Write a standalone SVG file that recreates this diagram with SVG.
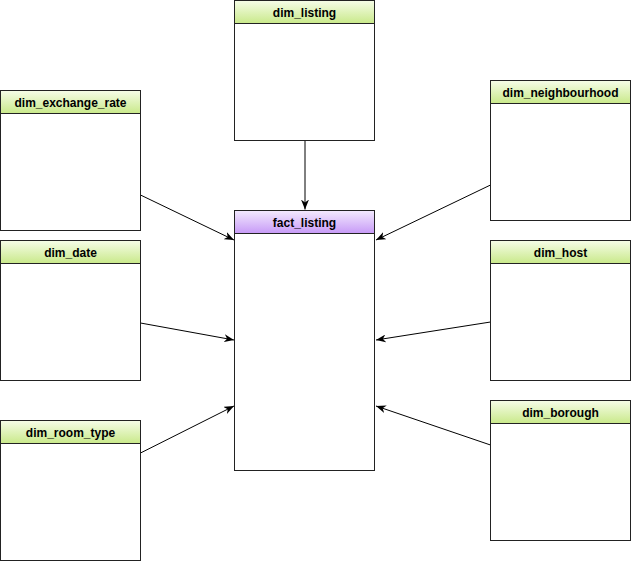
<svg xmlns="http://www.w3.org/2000/svg" width="631" height="561" viewBox="0 0 631 561">
<defs>
<linearGradient id="gGreen" x1="0" y1="0" x2="0" y2="1">
<stop offset="0" stop-color="#f6fde8"/>
<stop offset="1" stop-color="#c9e98a"/>
</linearGradient>
<linearGradient id="gPurple" x1="0" y1="0" x2="0" y2="1">
<stop offset="0" stop-color="#f3eafe"/>
<stop offset="1" stop-color="#c79af7"/>
</linearGradient>
<marker id="arr" viewBox="0 0 10 8" refX="10" refY="4" markerWidth="10" markerHeight="8" markerUnits="userSpaceOnUse" orient="auto">
<path d="M0,0 L10,4 L0,8 L3,4 Z" fill="#000"/>
</marker>
<style>
.body{fill:#fff;stroke:#222;stroke-width:1}
.hg{fill:url(#gGreen);stroke:#222;stroke-width:1}
.hp{fill:url(#gPurple);stroke:#222;stroke-width:1}
.t{font-family:"Liberation Sans",Arial,sans-serif;font-size:12px;font-weight:bold;fill:#000;text-anchor:middle}
.c{stroke:#000;stroke-width:1;fill:none;marker-end:url(#arr)}
</style>
</defs>
<g id="connectors">
<line class="c" x1="305" y1="140.5" x2="305" y2="209.5"/>
<line class="c" x1="140.5" y1="195" x2="234" y2="240"/>
<line class="c" x1="140.5" y1="323" x2="234" y2="340"/>
<line class="c" x1="140.5" y1="453" x2="234" y2="406"/>
<line class="c" x1="490.5" y1="185" x2="376" y2="240"/>
<line class="c" x1="490.5" y1="322" x2="376" y2="340"/>
<line class="c" x1="490.5" y1="445" x2="376" y2="406"/>
</g>
<g id="fact_listing">
<rect class="body" x="234.5" y="210.5" width="140" height="260"/>
<rect class="hp" x="234.5" y="210.5" width="140" height="23"/>
<text class="t" x="304.5" y="226.5">fact_listing</text>
</g>
<g id="dim_listing">
<rect class="body" x="234.5" y="0.5" width="140" height="140"/>
<rect class="hg" x="234.5" y="0.5" width="140" height="23"/>
<text class="t" x="304.5" y="16.5">dim_listing</text>
</g>
<g id="dim_exchange_rate">
<rect class="body" x="0.5" y="90.5" width="140" height="140"/>
<rect class="hg" x="0.5" y="90.5" width="140" height="23"/>
<text class="t" x="70.5" y="106.5">dim_exchange_rate</text>
</g>
<g id="dim_date">
<rect class="body" x="0.5" y="240.5" width="140" height="140"/>
<rect class="hg" x="0.5" y="240.5" width="140" height="23"/>
<text class="t" x="70.5" y="256.5">dim_date</text>
</g>
<g id="dim_room_type">
<rect class="body" x="0.5" y="420.5" width="140" height="140"/>
<rect class="hg" x="0.5" y="420.5" width="140" height="23"/>
<text class="t" x="70.5" y="436.5">dim_room_type</text>
</g>
<g id="dim_neighbourhood">
<rect class="body" x="490.5" y="80.5" width="140" height="140"/>
<rect class="hg" x="490.5" y="80.5" width="140" height="23"/>
<text class="t" x="560.5" y="96.5">dim_neighbourhood</text>
</g>
<g id="dim_host">
<rect class="body" x="490.5" y="240.5" width="140" height="140"/>
<rect class="hg" x="490.5" y="240.5" width="140" height="23"/>
<text class="t" x="560.5" y="256.5">dim_host</text>
</g>
<g id="dim_borough">
<rect class="body" x="490.5" y="400.5" width="140" height="140"/>
<rect class="hg" x="490.5" y="400.5" width="140" height="23"/>
<text class="t" x="560.5" y="416.5">dim_borough</text>
</g>
</svg>
